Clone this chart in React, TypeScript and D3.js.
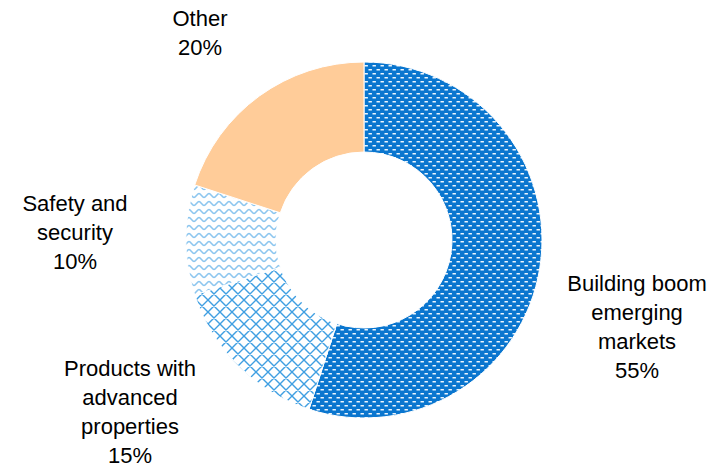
import React from "react";
import * as d3 from "d3";

const categories = ["Building boom emerging markets", "Products with advanced properties", "Safety and security", "Other"];
const values = [55, 15, 10, 20];
const labelLines = [
  ["Building boom", "emerging", "markets", "55%"],
  ["Products with", "advanced", "properties", "15%"],
  ["Safety and", "security", "10%"],
  ["Other", "20%"],
];

const W = 728;
const H = 467;
const CX = 364;
const CY = 240;
const R_OUT = 178;
const R_IN = 88;
const LINE_H = 29;
// label anchor (center x, first baseline y)
const labelLayout = [
  { x: 637, y: 291 },
  { x: 130, y: 376 },
  { x: 75, y: 211 },
  { x: 200, y: 26 },
];
const fills = ["url(#pDots)", "url(#pCross)", "url(#pWave)", "#ffcc99"];

export default function App() {
  const pie = d3.pie<number>().value((d) => d).sort(null);
  const arcs = pie(values);
  const arc = d3.arc<d3.PieArcDatum<number>>().innerRadius(R_IN).outerRadius(R_OUT);

  return (
    <svg
      width={W}
      height={H}
      style={{ position: "absolute", left: 0, top: 0, background: "#fff" }}
      fontFamily="'Liberation Sans', Arial, sans-serif"
    >
      <defs>
        <pattern id="pDots" width={8} height={8} patternUnits="userSpaceOnUse">
          <rect width={8} height={8} fill="#0a76cf" />
          <rect x={0.5} y={1} width={3.4} height={1.5} fill="#eef6fd" />
          <rect x={4.5} y={5} width={3.4} height={1.5} fill="#eef6fd" />
        </pattern>
        <pattern id="pCross" width={12} height={12} patternUnits="userSpaceOnUse">
          <rect width={12} height={12} fill="#fff" />
          <path d="M0,0L12,12M12,0L0,12M-1,11L1,13M11,-1L13,1M-1,1L1,-1M11,13L13,11" stroke="#3f9fe2" strokeWidth={1.4} fill="none" />
        </pattern>
        <pattern id="pWave" width={10} height={8} patternUnits="userSpaceOnUse">
          <rect width={10} height={8} fill="#fff" />
          <path d="M0,5.5 C1.7,5.5 3.3,1.5 5,1.5 C6.7,1.5 8.3,5.5 10,5.5" stroke="#8cc6ef" strokeWidth={1.5} fill="none" />
        </pattern>
      </defs>
      <g transform={`translate(${CX},${CY})`}>
        {arcs.map((a, i) => (
          <path key={categories[i]} d={arc(a) || ""} fill={fills[i]} stroke="#fff" strokeWidth={1} />
        ))}
      </g>
      {labelLines.map((lines, i) => (
        <text key={i} x={labelLayout[i].x} y={labelLayout[i].y} textAnchor="middle" fontSize={22} fill="#000">
          {lines.map((l, j) => (
            <tspan key={j} x={labelLayout[i].x} dy={j === 0 ? 0 : LINE_H}>
              {l}
            </tspan>
          ))}
        </text>
      ))}
    </svg>
  );
}
